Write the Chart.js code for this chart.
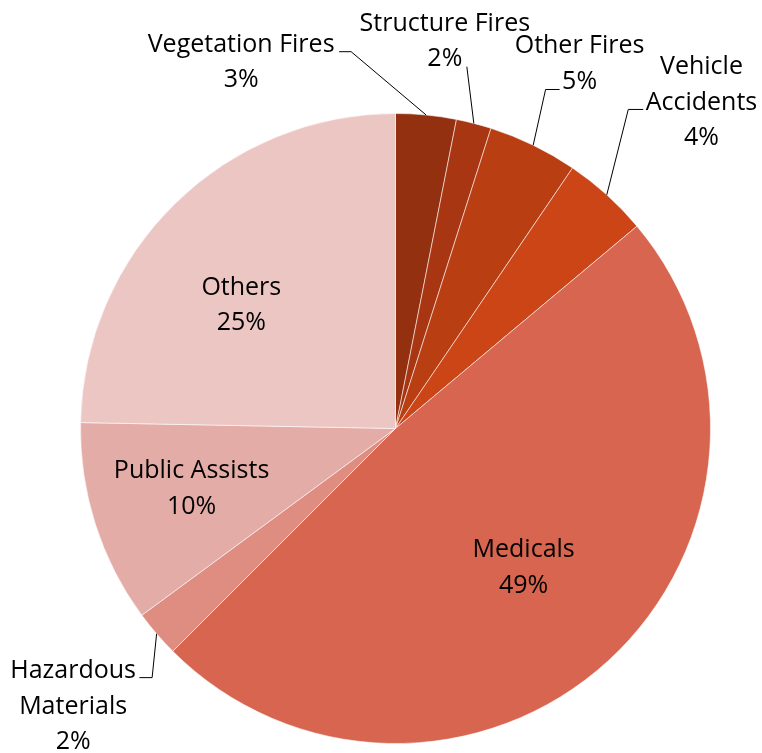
<!DOCTYPE html>
<html>
<head>
<meta charset="utf-8">
<script src="https://cdn.jsdelivr.net/npm/chart.js@4.4.1/dist/chart.umd.min.js"></script>
<style>
  html, body { margin: 0; padding: 0; background: #fff; }
  #callsChart { display: block; }
</style>
</head>
<body>
<canvas id="callsChart" width="762" height="753"></canvas>
<script>
// Kategorier og andele (læst af billedet, med uret fra kl. 12)
const categories = ['Vegetation Fires', 'Structure Fires', 'Other Fires', 'Vehicle\nAccidents',
                    'Medicals', 'Hazardous\nMaterials', 'Public Assists', 'Others'];
const values = [3.1, 1.8, 4.6, 4.4, 48.6, 2.4, 10.4, 24.7];
const colors = ['#93300F', '#A93613', '#B93F13', '#CB4517', '#D7654F', '#DE8D80', '#E3ACA6', '#ECC6C3'];

// Placering af labels i forhold til skivens midtervinkel
// inside: punkt ved frac * radius, ellers ved kanten + ledelinje
const labelLayout = [
    { dx: -185, dy: -63.3, leader: [[-75, -63.3], [-87, -63.3]] },
    { dx: -29, dy: -92.7, leader: [[-7, -56.7]] },
    { dx: 46.4, dy: -91.7, leader: [[12.4, -55.7], [26.4, -55.7]] },
    { dx: 94.7, dy: -120.4, leader: [[21.5, -85.4], [36.5, -85.4]] },
    { inside: true, frac: 0.6, dx: 0.5, dy: -10.8 },
    { dx: -83.5, dy: 44.4, leader: [[-4.5, 43.8], [-17.2, 43.8]] },
    { inside: true, frac: 0.6, dx: -23.8, dy: -7.7 },
    { inside: true, frac: 0.6, dx: -21.8, dy: 1.3 }
];
const lineH = 35.5;

const sliceLabels = {
    id: 'sliceLabels',
    afterDatasetsDraw(chart) {
        const ctx = chart.ctx;
        const meta = chart.getDatasetMeta(0);
        const total = values.reduce((a, b) => a + b, 0);
        ctx.save();
        ctx.font = '25px "Open Sans"';
        ctx.fillStyle = '#000';
        ctx.strokeStyle = '#000';
        ctx.lineWidth = 1;
        ctx.textAlign = 'center';
        ctx.textBaseline = 'alphabetic';
        meta.data.forEach((arc, i) => {
            const p = arc.getProps(['x', 'y', 'startAngle', 'endAngle', 'outerRadius'], true);
            const mid = (p.startAngle + p.endAngle) / 2;
            const lay = labelLayout[i];
            const r = lay.inside ? p.outerRadius * lay.frac : p.outerRadius;
            const ex = p.x + Math.cos(mid) * r;
            const ey = p.y + Math.sin(mid) * r;
            if (lay.leader) {
                ctx.beginPath();
                ctx.moveTo(ex, ey);
                lay.leader.forEach(([dx, dy]) => ctx.lineTo(ex + dx, ey + dy));
                ctx.stroke();
            }
            const lines = categories[i].split('\n');
            lines.push(Math.round(values[i] / total * 100) + '%');
            lines.forEach((t, k) => ctx.fillText(t, ex + lay.dx, ey + lay.dy + k * lineH));
        });
        ctx.restore();
    }
};

const ctx = document.getElementById('callsChart').getContext('2d');
new Chart(ctx, {
    type: 'pie',
    data: {
        labels: categories,
        datasets: [{
            data: values,
            backgroundColor: colors,
            borderColor: 'rgba(255,255,255,0.55)',
            borderWidth: 1
        }]
    },
    options: {
        responsive: false,
        animation: false,
        layout: { padding: { top: 113, bottom: 9, left: 80, right: 51 } },
        plugins: {
            legend: { display: false },
            tooltip: { enabled: false }
        }
    },
    plugins: [sliceLabels]
});
</script>
</body>
</html>
